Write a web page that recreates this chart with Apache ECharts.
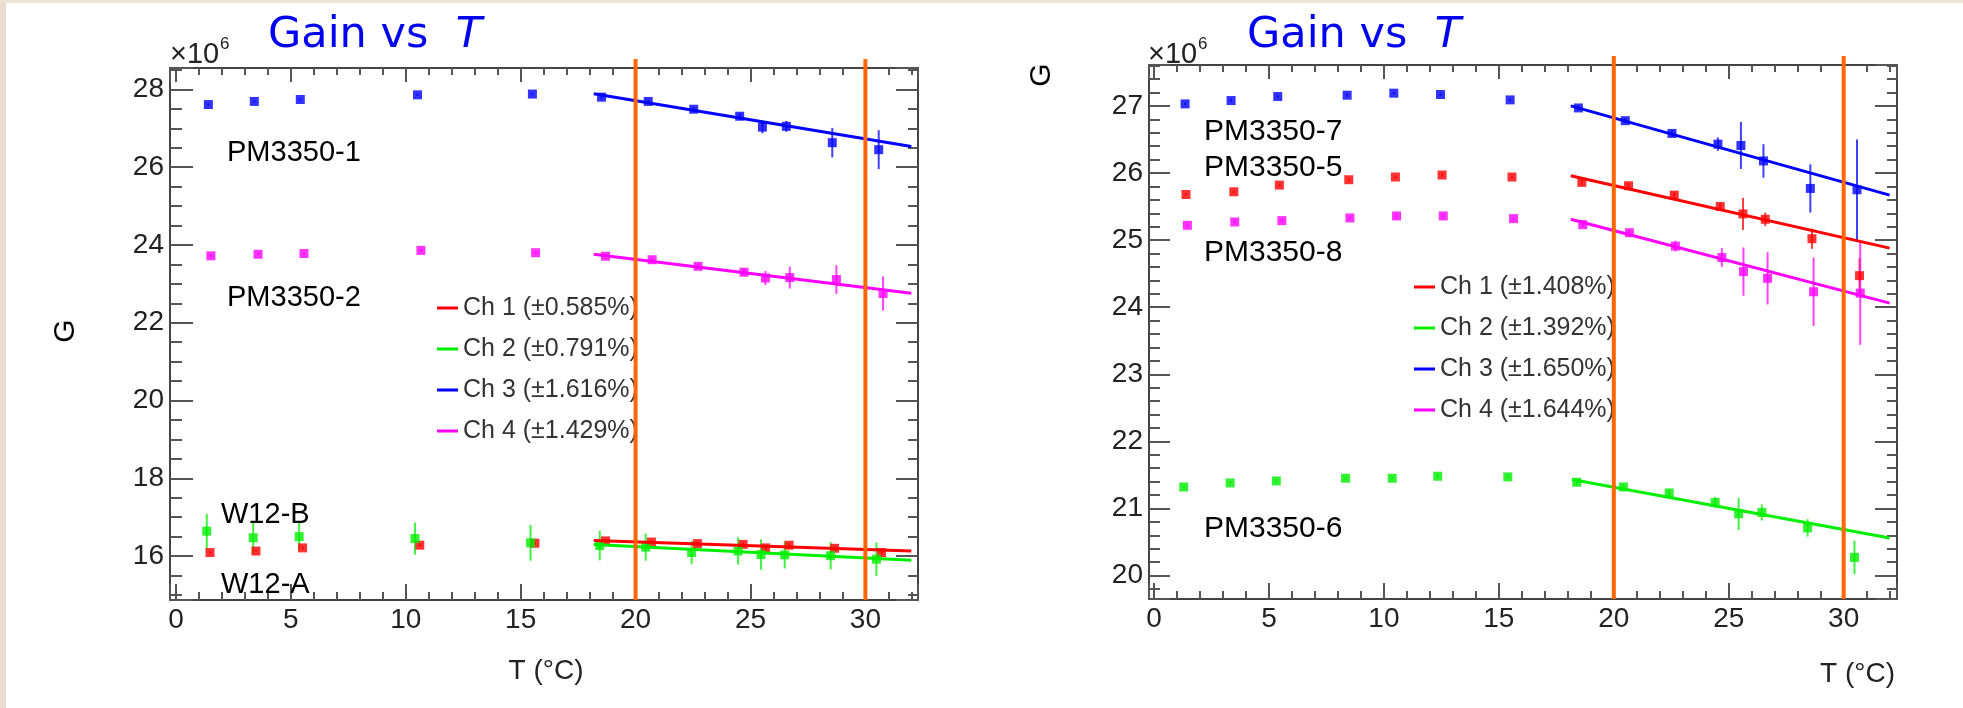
<!DOCTYPE html>
<html><head><meta charset="utf-8">
<script src="https://cdn.jsdelivr.net/npm/echarts@6/dist/echarts.min.js"></script>
<style>html,body{margin:0;padding:0;background:#fff}#c{width:1963px;height:708px}</style>
</head><body><div id="c"></div>
<script>
// ---------------- DATA ----------------
// Left panel (W12 / PM3350-1, PM3350-2)
const L_ch1_T = [1.48,3.48,5.51,10.61,15.62,18.69,20.69,22.69,24.68,25.66,26.68,28.66,30.70];
const L_ch1_G = [16.09,16.13,16.21,16.28,16.33,16.39,16.36,16.32,16.30,16.21,16.28,16.20,16.09];
const L_ch1_E = [0.03,0.03,0.04,0.04,0.04,0.05,0.05,0.05,0.05,0.06,0.06,0.06,0.07];
const L_ch2_T = [1.34,3.36,5.36,10.40,15.43,18.44,20.44,22.44,24.46,25.46,26.49,28.49,30.48];
const L_ch2_G = [16.64,16.47,16.50,16.45,16.34,16.27,16.23,16.09,16.13,16.04,16.03,16.01,15.92];
const L_ch2_E = [0.44,0.43,0.35,0.41,0.46,0.38,0.35,0.30,0.35,0.39,0.35,0.35,0.43];
const L_ch3_T = [1.41,3.41,5.41,10.51,15.51,18.52,20.55,22.53,24.53,25.52,26.56,28.56,30.58];
const L_ch3_G = [27.61,27.69,27.74,27.86,27.88,27.80,27.69,27.49,27.31,27.03,27.05,26.63,26.45];
const L_ch3_E = [0.03,0.03,0.03,0.03,0.03,0.06,0.06,0.06,0.08,0.16,0.14,0.38,0.50];
const L_ch4_T = [1.52,3.57,5.57,10.66,15.65,18.69,20.72,22.72,24.72,25.65,26.71,28.74,30.77];
const L_ch4_G = [23.72,23.76,23.78,23.86,23.80,23.71,23.62,23.45,23.30,23.15,23.16,23.11,22.75];
const L_ch4_E = [0.03,0.03,0.03,0.03,0.03,0.06,0.06,0.06,0.08,0.18,0.28,0.37,0.44];
// fitted lines: [T, G] end points
const L_fit1 = [[18.18,16.40],[32.0,16.13]];
const L_fit2 = [[18.18,16.30],[32.0,15.89]];
const L_fit3 = [[18.18,27.89],[32.0,26.53]];
const L_fit4 = [[18.18,23.76],[32.0,22.76]];
const L_names = ['Ch 1 (\u00b10.585%)','Ch 2 (\u00b10.791%)','Ch 3 (\u00b11.616%)','Ch 4 (\u00b11.429%)'];

// Right panel (PM3350-5,6,7,8)
const R_ch1_T = [1.39,3.47,5.45,8.47,10.50,12.53,15.57,18.61,20.64,22.63,24.63,25.62,26.59,28.62,30.69];
const R_ch1_G = [25.68,25.72,25.82,25.90,25.94,25.97,25.94,25.86,25.81,25.67,25.50,25.39,25.31,25.02,24.47];
const R_ch1_E = [0.02,0.02,0.02,0.02,0.02,0.02,0.02,0.04,0.04,0.05,0.06,0.24,0.10,0.15,0.26];
const R_ch2_T = [1.29,3.31,5.32,8.33,10.36,12.34,15.39,18.39,20.42,22.41,24.41,25.43,26.44,28.43,30.47];
const R_ch2_G = [21.32,21.38,21.41,21.45,21.45,21.48,21.47,21.39,21.32,21.23,21.09,20.92,20.94,20.71,20.27];
const R_ch2_E = [0.02,0.02,0.02,0.02,0.02,0.02,0.02,0.04,0.05,0.06,0.08,0.24,0.12,0.13,0.25];
const R_ch3_T = [1.35,3.35,5.38,8.40,10.43,12.46,15.49,18.46,20.50,22.53,24.53,25.53,26.51,28.55,30.58];
const R_ch3_G = [27.03,27.08,27.14,27.16,27.19,27.17,27.09,26.97,26.78,26.59,26.43,26.41,26.18,25.77,25.75];
const R_ch3_E = [0.02,0.02,0.02,0.02,0.02,0.02,0.02,0.04,0.04,0.05,0.10,0.35,0.25,0.36,0.75];
const R_ch4_T = [1.45,3.51,5.56,8.52,10.55,12.58,15.64,18.65,20.68,22.68,24.70,25.64,26.69,28.69,30.72];
const R_ch4_G = [25.22,25.27,25.29,25.33,25.36,25.36,25.32,25.23,25.11,24.91,24.74,24.53,24.43,24.23,24.21];
const R_ch4_E = [0.02,0.02,0.02,0.02,0.02,0.02,0.02,0.04,0.05,0.08,0.14,0.36,0.39,0.51,0.77];
const R_fit1 = [[18.13,25.96],[32.0,24.88]];
const R_fit2 = [[18.18,21.43],[32.0,20.56]];
const R_fit3 = [[18.13,27.00],[32.0,25.67]];
const R_fit4 = [[18.13,25.31],[32.0,24.06]];
const R_names = ['Ch 1 (\u00b11.408%)','Ch 2 (\u00b11.392%)','Ch 3 (\u00b11.650%)','Ch 4 (\u00b11.644%)'];

// axis ranges and tick steps
const L_xRange = [-0.26, 32.29], L_yRange = [14.87, 28.55], L_yStep = 2, L_yMinor = 4;
const R_xRange = [-0.22, 32.32], R_yRange = [19.65, 27.61], R_yStep = 1, R_yMinor = 5;
const xStep = 5, xMinor = 5;
const cutLines = [20, 30];

// ---------------- CHART ----------------
const COLORS = ['#ff0000', '#00ee00', '#0000ff', '#ff00ff'];
const FONT = 'Liberation Sans, Arial, sans-serif';
const FRAME = '#444';

function zip(T, G, E) { return T.map((t, i) => [t, G[i], E[i]]); }

function xAxis(grid, pos, range, label, tl, ml) {
  return {
    type: 'value', gridIndex: grid, position: pos, min: range[0], max: range[1],
    minInterval: xStep, maxInterval: xStep, splitNumber: 6,
    axisLine: { show: true, onZero: false, lineStyle: { color: FRAME, width: 2 } },
    axisTick: { show: true, inside: true, length: tl, lineStyle: { color: '#555', width: 2 } },
    minorTick: { show: true, splitNumber: xMinor, length: ml, lineStyle: { color: '#555', width: 2 } },
    axisLabel: { show: label, showMinLabel: false, showMaxLabel: false, fontFamily: FONT, fontSize: 28, color: '#222', margin: 6 },
    splitLine: { show: false }, minorSplitLine: { show: false }
  };
}
function yAxis(grid, pos, range, step, minor, label, tl, ml) {
  return {
    type: 'value', gridIndex: grid, position: pos, min: range[0], max: range[1],
    minInterval: step, maxInterval: step, splitNumber: 8,
    axisLine: { show: true, onZero: false, lineStyle: { color: FRAME, width: 2 } },
    axisTick: { show: true, inside: true, length: tl, lineStyle: { color: '#555', width: 2 } },
    minorTick: { show: true, splitNumber: minor, length: ml, lineStyle: { color: '#555', width: 2 } },
    axisLabel: { show: label, showMinLabel: false, showMaxLabel: false, fontFamily: FONT, fontSize: 28, color: '#222', margin: 6 },
    splitLine: { show: false }, minorSplitLine: { show: false }
  };
}

function panelSeries(axisIdx, chans, fits, names, yRange) {
  const out = [];
  chans.forEach((d, k) => {
    const col = COLORS[k];
    out.push({
      type: 'custom', xAxisIndex: axisIdx, yAxisIndex: axisIdx, data: d, z: 3, silent: true,
      renderItem: (params, api) => {
        const x = api.value(0), y = api.value(1), e = api.value(2);
        const a = api.coord([x, y - e]), b = api.coord([x, y + e]);
        return { type: 'line', shape: { x1: a[0], y1: a[1], x2: b[0], y2: b[1] },
                 style: { stroke: col, lineWidth: 2, opacity: 0.75 } };
      }
    });
    out.push({
      type: 'scatter', xAxisIndex: axisIdx, yAxisIndex: axisIdx, data: d.map(p => [p[0], p[1]]),
      symbol: 'rect', symbolSize: 9, itemStyle: { color: col }, z: 4, silent: true
    });
    out.push({
      type: 'line', name: names[k], xAxisIndex: axisIdx, yAxisIndex: axisIdx, data: fits[k],
      showSymbol: false, color: col, lineStyle: { color: col, width: 3 }, z: 5, silent: true
    });
  });
  out.push({
    type: 'custom', xAxisIndex: axisIdx, yAxisIndex: axisIdx, data: cutLines.map(v => [v]), z: 10, silent: true,
    renderItem: (params, api) => {
      const x = api.value(0);
      const t = api.coord([x, yRange[1]]), b = api.coord([x, yRange[0]]);
      return { type: 'line', shape: { x1: t[0], y1: t[1] - 9, x2: b[0], y2: b[1] },
               style: { stroke: '#ff6600', lineWidth: 4 } };
    }
  });
  return out;
}

function legend(names, left, top) {
  return {
    data: names, left: left, top: top, orient: 'vertical', padding: 0,
    itemWidth: 21, itemHeight: 3, itemGap: 11, icon: 'rect', selectedMode: false,
    textStyle: { fontFamily: FONT, fontSize: 25, color: '#333', lineHeight: 30 }
  };
}

function txt(x, y, s, size, extra) {
  return Object.assign({ type: 'text', x: x, y: y, z: 20,
    style: Object.assign({ text: s, fontFamily: FONT, fontSize: size, fill: '#000', align: 'left', verticalAlign: 'middle' }, extra || {}) });
}
function title(x) {
  return { type: 'text', x: x, y: 36, z: 20, style: {
    text: '{a|Gain vs  }{b|T}', align: 'left', verticalAlign: 'middle',
    rich: { a: { fontFamily: 'DejaVu Sans', fontSize: 43, fill: '#0000f0' },
            b: { fontFamily: 'DejaVu Sans', fontSize: 43, fontStyle: 'italic', fill: '#0000f0' } } } };
}
function expo(x) {
  return [txt(x, 55, '\u00d710', 29, { fill: '#222' }), txt(x + 50, 44, '6', 17, { fill: '#222' })];
}

const chart = echarts.init(document.getElementById('c'), null, { renderer: 'canvas' });
chart.setOption({
  backgroundColor: '#ffffff',
  animation: false,
  grid: [
    { left: 170, top: 68, width: 748, height: 532, show: false },
    { left: 1149, top: 65, width: 748, height: 534, show: false }
  ],
  xAxis: [
    xAxis(0, 'bottom', L_xRange, true, 16, 8),
    xAxis(0, 'top', L_xRange, false, 14, 7),
    xAxis(1, 'bottom', R_xRange, true, 16, 8),
    xAxis(1, 'top', R_xRange, false, 14, 7)
  ],
  yAxis: [
    yAxis(0, 'left', L_yRange, L_yStep, L_yMinor, true, 23, 12),
    yAxis(0, 'right', L_yRange, L_yStep, L_yMinor, false, 22, 10),
    yAxis(1, 'left', R_yRange, R_yStep, R_yMinor, true, 21, 11),
    yAxis(1, 'right', R_yRange, R_yStep, R_yMinor, false, 22, 10)
  ],
  legend: [legend(L_names, 437, 293), legend(R_names, 1414, 272)],
  series: [].concat(
    panelSeries(0,
      [zip(L_ch1_T, L_ch1_G, L_ch1_E), zip(L_ch2_T, L_ch2_G, L_ch2_E), zip(L_ch3_T, L_ch3_G, L_ch3_E), zip(L_ch4_T, L_ch4_G, L_ch4_E)],
      [L_fit1, L_fit2, L_fit3, L_fit4], L_names, L_yRange),
    panelSeries(2,
      [zip(R_ch1_T, R_ch1_G, R_ch1_E), zip(R_ch2_T, R_ch2_G, R_ch2_E), zip(R_ch3_T, R_ch3_G, R_ch3_E), zip(R_ch4_T, R_ch4_G, R_ch4_E)],
      [R_fit1, R_fit2, R_fit3, R_fit4], R_names, R_yRange)
  ),
  graphic: [
    { type: 'rect', shape: { x: 0, y: 0, width: 6, height: 708 }, style: { fill: '#e8ddd0' }, z: 0 },
    { type: 'rect', shape: { x: 0, y: 0, width: 1963, height: 3 }, style: { fill: '#ece3d6' }, z: 0 },
    title(268), title(1247),
    ...expo(170), ...expo(1148),
    txt(227, 153, 'PM3350-1', 29), txt(227, 298, 'PM3350-2', 29),
    txt(221, 515, 'W12-B', 29), txt(221, 585, 'W12-A', 29),
    txt(1204, 132, 'PM3350-7', 30), txt(1204, 168, 'PM3350-5', 30),
    txt(1204, 253, 'PM3350-8', 30), txt(1204, 529, 'PM3350-6', 30),
    Object.assign(txt(66, 331, 'G', 30, { align: 'center' }), { rotation: Math.PI / 2 }),
    Object.assign(txt(1042, 75, 'G', 30, { align: 'center' }), { rotation: Math.PI / 2 }),
    txt(546, 671, 'T (\u00b0C)', 28, { align: 'center', fill: '#222' }),
    txt(1895, 674, 'T (\u00b0C)', 28, { align: 'right', fill: '#222' })
  ]
});
</script></body></html>
